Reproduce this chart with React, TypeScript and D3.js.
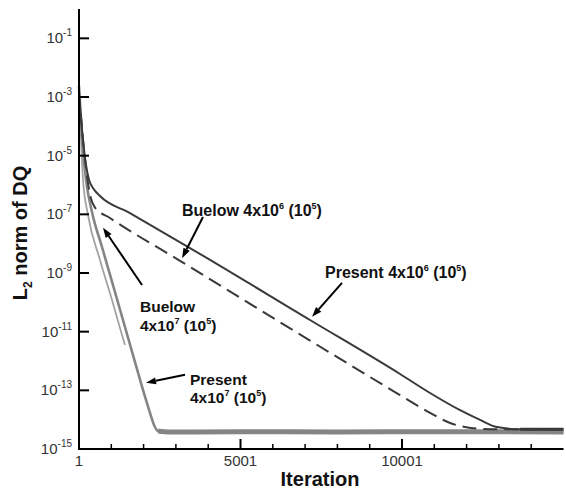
import React from 'react';
import * as d3 from 'd3';

const W = 566;
const H = 491;

// Iteration / L2 norm pairs
const present4e6: [number, number][] = [
  [1, 1.2e-3], [94, 7.5e-5], [218, 4.8e-6], [311, 1.5e-6], [434, 7.9e-7], [651, 4.2e-7],
  [1580, 1.1e-7], [3438, 7.1e-9], [7153, 2.5e-11], [9940, 3.6e-13], [10870, 8.1e-14],
  [11800, 2.1e-14], [12420, 9.8e-15], [12940, 5.6e-15], [13660, 4.7e-15], [15000, 4.7e-15],
];
const buelow4e6: [number, number][] = [
  [1, 1.5e-3], [156, 1.6e-5], [342, 4.6e-7], [496, 1.7e-7], [961, 7.5e-8], [3129, 2.6e-9],
  [6226, 2.1e-11], [9940, 6.9e-14], [10870, 1.7e-14], [11490, 7.7e-15], [11950, 5.6e-15],
  [12730, 4.7e-15], [15000, 4.7e-15],
];
const present4e7: [number, number][] = [
  [1, 2.4e-3], [63, 1.7e-4], [125, 1.6e-5], [218, 1.5e-6], [403, 1.2e-7], [713, 7.7e-9],
  [1363, 2.5e-11], [1890, 2.3e-13], [2075, 4.7e-14], [2199, 1.7e-14], [2323, 6.6e-15],
  [2447, 4.1e-15], [2819, 3.8e-15], [5000, 3.9e-15], [8000, 3.8e-15], [11000, 3.9e-15],
  [15000, 3.8e-15],
];
const buelow4e7: [number, number][] = [
  [1, 1.5e-3], [63, 3.4e-5], [125, 1.5e-6], [280, 9.5e-8], [651, 2.8e-9], [1023, 1.2e-10],
  [1332, 7.7e-12], [1425, 3.5e-12],
];

const xMajorTicks = [1, 5001, 10001];
const xMajorLabels = ['1', '5001', '10001'];
const xMinorTicks = [1001, 2001, 3001, 4001, 6001, 7001, 8001, 9001, 11001, 12001, 13001, 14001];
const yTicks = [1e-1, 1e-3, 1e-5, 1e-7, 1e-9, 1e-11, 1e-13, 1e-15];
const yExponents = ['-1', '-3', '-5', '-7', '-9', '-11', '-13', '-15'];

// annotations: [tip iteration, tip value, tail iteration, tail value]
const arrows: [number, number, number, number][] = [
  [3192, 3.2e-9, 3840, 8.1e-8],
  [7215, 3.2e-11, 8144, 4.6e-10],
  [744, 3.5e-8, 1952, 3.9e-10],
  [2076, 1.8e-13, 3283, 3.4e-13],
];

const FONT = '"Liberation Sans", Arial, Helvetica, sans-serif';

export default function App() {
  const x = d3.scaleLinear().domain([1, 15001]).range([79, 563.5]);
  const y = d3.scaleLog().domain([1e-15, 1]).range([449, 9]);
  const line = d3
    .line<[number, number]>()
    .x((d) => x(d[0]))
    .y((d) => y(d[1]))
    .curve(d3.curveMonotoneX);

  const dark = '#3a3a3a';
  const grayP = '#858585';
  const grayB = '#a3a3a3';

  const floorP = present4e7.filter((d) => d[0] >= 2447);
  const floorD = present4e6.filter((d) => d[0] >= 13660);

  const sup = (s: string, size = 10) => (
    <tspan fontSize={size} dy={-7}>{s}</tspan>
  );

  const annText = (
    px: number,
    py: number,
    parts: { t: string; s?: boolean }[],
    key: string,
    size = 16
  ) => (
    <text key={key} x={px} y={py} fontFamily={FONT} fontWeight="bold" fontSize={size} fill="#111">
      {parts.map((p, i) =>
        p.s ? (
          <tspan key={i} fontSize={9} dy={-7}>{p.t}</tspan>
        ) : (
          <tspan key={i} fontSize={size} dy={i > 0 && parts[i - 1].s ? 7 : 0}>{p.t}</tspan>
        )
      )}
    </text>
  );

  const arrowHead = (tx: number, ty: number, fx: number, fy: number, k: number) => {
    const ang = Math.atan2(ty - fy, tx - fx);
    const L = 10;
    const Wd = 3.5;
    const bx = tx - L * Math.cos(ang);
    const by = ty - L * Math.sin(ang);
    const p1 = [bx + Wd * Math.sin(ang), by - Wd * Math.cos(ang)];
    const p2 = [bx - Wd * Math.sin(ang), by + Wd * Math.cos(ang)];
    return (
      <g key={k}>
        <line x1={fx} y1={fy} x2={bx} y2={by} stroke="#000" strokeWidth={2} />
        <polygon points={`${tx},${ty} ${p1[0]},${p1[1]} ${p2[0]},${p2[1]}`} fill="#000" />
      </g>
    );
  };

  return (
    <svg
      width={W}
      height={H}
      style={{ position: 'absolute', left: 0, top: 0, background: '#fff' }}
    >
      {/* curves */}
      <path d={line(buelow4e7) || ''} fill="none" stroke={grayB} strokeWidth={1.8} />
      <path d={line(present4e7) || ''} fill="none" stroke={grayP} strokeWidth={2.6} />
      <path d={line(floorP) || ''} fill="none" stroke={grayP} strokeWidth={5} />
      <path d={line(buelow4e6) || ''} fill="none" stroke={dark} strokeWidth={2} strokeDasharray="14,7" />
      <path d={line(present4e6) || ''} fill="none" stroke={dark} strokeWidth={2} />
      <path d={line(floorD) || ''} fill="none" stroke={dark} strokeWidth={3} />

      {/* axes */}
      <line x1={x(1)} y1={y(1)} x2={x(1)} y2={y(1e-15) + 1} stroke="#000" strokeWidth={2} />
      <line x1={x(1) - 1} y1={y(1e-15)} x2={x(15001)} y2={y(1e-15)} stroke="#000" strokeWidth={2} />
      {yTicks.map((t, i) => (
        <g key={'yt' + i}>
          <line x1={x(1)} x2={x(1) + 10} y1={y(t)} y2={y(t)} stroke="#000" strokeWidth={2} />
          <text x={72} y={y(t) + 5} textAnchor="end" fontFamily={FONT} fontSize={15} fill="#333">
            10{sup(yExponents[i])}
          </text>
        </g>
      ))}
      {xMajorTicks.map((t, i) => (
        <g key={'xt' + i}>
          <line x1={x(t)} x2={x(t)} y1={y(1e-15)} y2={y(1e-15) - 10} stroke="#000" strokeWidth={2} />
          <text x={x(t)} y={466} textAnchor="middle" fontFamily={FONT} fontSize={15} fill="#333">
            {xMajorLabels[i]}
          </text>
        </g>
      ))}
      {xMinorTicks.map((t, i) => (
        <line key={'xm' + i} x1={x(t)} x2={x(t)} y1={y(1e-15)} y2={y(1e-15) - 5} stroke="#000" strokeWidth={1.5} />
      ))}

      {/* axis titles */}
      <text x={320} y={486} textAnchor="middle" fontFamily={FONT} fontWeight="bold" fontSize={20} fill="#111">
        Iteration
      </text>
      <text
        transform={`translate(27,233) rotate(-90)`}
        textAnchor="middle"
        fontFamily={FONT}
        fontWeight="bold"
        fontSize={20}
        fill="#111"
      >
        L<tspan fontSize={12} dy={5}>2</tspan>
        <tspan dy={-5}> norm of DQ</tspan>
      </text>

      {/* annotations */}
      {annText(182, 216, [{ t: 'Buelow 4x10' }, { t: '6', s: true }, { t: ' (10' }, { t: '5', s: true }, { t: ')' }], 'a1')}
      {annText(325, 278, [{ t: 'Present 4x10' }, { t: '6', s: true }, { t: ' (10' }, { t: '5', s: true }, { t: ')' }], 'a2')}
      {annText(140, 312, [{ t: 'Buelow' }], 'a3', 15.5)}
      {annText(140, 331, [{ t: '4x10' }, { t: '7', s: true }, { t: ' (10' }, { t: '5', s: true }, { t: ')' }], 'a4', 15.5)}
      {annText(190, 385, [{ t: 'Present' }], 'a5', 15.5)}
      {annText(190, 403, [{ t: '4x10' }, { t: '7', s: true }, { t: ' (10' }, { t: '5', s: true }, { t: ')' }], 'a6', 15.5)}
      {arrows.map((a, i) => arrowHead(x(a[0]), y(a[1]), x(a[2]), y(a[3]), i))}
    </svg>
  );
}
